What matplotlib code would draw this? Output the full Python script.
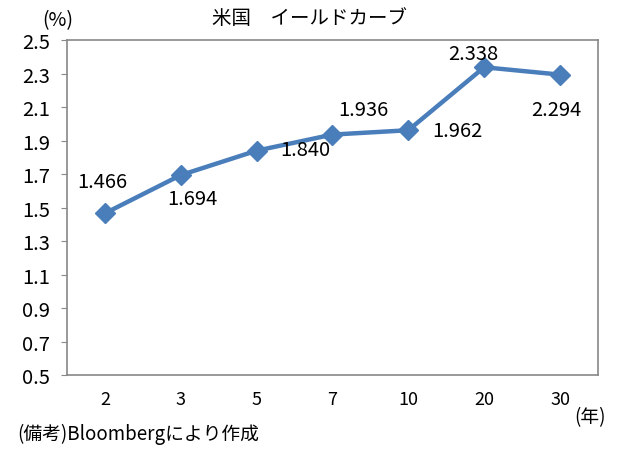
import matplotlib
matplotlib.use("Agg")
import matplotlib.pyplot as plt

plt.rcParams['font.family'] = ['Noto Sans CJK JP', 'DejaVu Sans']

categories = ["2", "3", "5", "7", "10", "20", "30"]
yields = [1.466, 1.694, 1.840, 1.936, 1.962, 2.338, 2.294]
yticks = [0.5, 0.7, 0.9, 1.1, 1.3, 1.5, 1.7, 1.9, 2.1, 2.3, 2.5]

# label offsets in points (dx, dy)
offsets = [(-2, 23), (8, -17), (35, 1), (22, 18), (35, 0), (-8, 10), (-3, -25)]

fig = plt.figure(figsize=(6.18, 4.52), dpi=100)
ax = fig.add_axes([0.1084, 0.168, 0.8592, 0.741])

x = list(range(len(categories)))
ax.plot(x, yields, color='#4A7EBB', linewidth=3.2, marker='D', markersize=10,
        markerfacecolor='#4A7EBB', markeredgecolor='#4A7EBB', zorder=3)

for xi, yi, (dx, dy) in zip(x, yields, offsets):
    ax.annotate(f"{yi:.3f}", (xi, yi), xytext=(dx, dy), textcoords='offset points',
                ha='center', va='center', fontsize=14.5, color='black')

ax.set_xlim(-0.5, len(categories) - 0.5)
ax.set_ylim(0.5, 2.5)
ax.set_yticks(yticks)
ax.set_yticklabels([f"{v:.1f}" for v in yticks], fontsize=14.5)
ax.set_xticks(x)
ax.set_xticklabels(categories, fontsize=13)
ax.tick_params(axis='x', length=0, pad=11)
ax.tick_params(axis='y', length=4, direction='out', color='#888888', pad=8)

for s in ax.spines.values():
    s.set_color('#888888')
    s.set_linewidth(1.2)

fig.text(0.5, 0.958, "米国　イールドカーブ", ha='center', va='center', fontsize=14)
fig.text(0.068, 0.955, "(%)", ha='left', va='center', fontsize=14)
fig.text(0.98, 0.077, "(年)", ha='right', va='center', fontsize=13.5)
fig.text(0.028, 0.038, "(備考)Bloombergにより作成", ha='left', va='center', fontsize=13.5)

fig.savefig("out.png", dpi=100)
